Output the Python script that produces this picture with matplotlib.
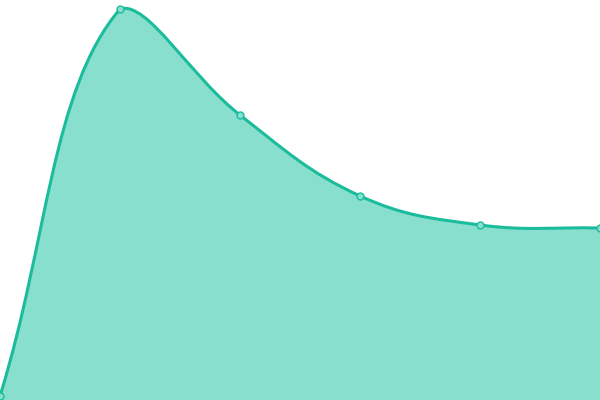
import numpy as np
import matplotlib
matplotlib.use("Agg")
import matplotlib.pyplot as plt
from matplotlib.path import Path
from matplotlib.patches import PathPatch

# data
labels = ["A", "B", "C", "D", "E", "F"]
values = [0, 100, 72.6, 51.7, 44.2, 43.4]

LINE = "#1abc9c"
FILL = "#88dfce"
TENSION = 0.4


def spline_controls(pts, tension, top, bottom):
    # chart.js style cardinal spline control points, in display coords
    n = len(pts)
    ctrl = []
    for i in range(n):
        prev = pts[i - 1] if i > 0 else pts[i]
        cur = pts[i]
        nxt = pts[i + 1] if i < n - 1 else pts[i]
        d01 = np.hypot(*(cur - prev))
        d12 = np.hypot(*(nxt - cur))
        tot = d01 + d12
        s01 = d01 / tot if tot else 0
        s12 = d12 / tot if tot else 0
        fa, fb = tension * s01, tension * s12
        cp = cur - fa * (nxt - prev)
        cn = cur + fb * (nxt - prev)
        for c in (cp, cn):
            c[1] = min(max(c[1], bottom), top)
        ctrl.append((cp, cn))
    return ctrl


fig = plt.figure(figsize=(6, 4), dpi=100)
ax = fig.add_axes([0, 0, 1, 1])
x = np.arange(len(labels))
ax.set_xlim(0, len(labels) - 1)
ymin = -1.03
ax.set_ylim(ymin, ymin + 400 / 3.87)
ax.axis("off")

tr = ax.transData
pts = tr.transform(np.column_stack([x, values]))
bb = ax.bbox
ctrl = spline_controls(pts, TENSION, bb.y1, bb.y0)

verts = [pts[0]]
codes = [Path.MOVETO]
for i in range(len(pts) - 1):
    verts += [ctrl[i][1], ctrl[i + 1][0], pts[i + 1]]
    codes += [Path.CURVE4] * 3
verts = tr.inverted().transform(np.array(verts))

line_path = Path(verts, codes)
fill_verts = np.vstack([verts, [[x[-1], ymin], [x[0], ymin], verts[0]]])
fill_codes = codes + [Path.LINETO, Path.LINETO, Path.CLOSEPOLY]
ax.add_patch(PathPatch(Path(fill_verts, fill_codes), facecolor=FILL, edgecolor="none"))
ax.add_patch(PathPatch(line_path, facecolor="none", edgecolor=LINE, linewidth=2.2))
ax.plot(x, values, "o", ms=5, mfc=FILL, mec=LINE, mew=1)

fig.savefig("out.png")
